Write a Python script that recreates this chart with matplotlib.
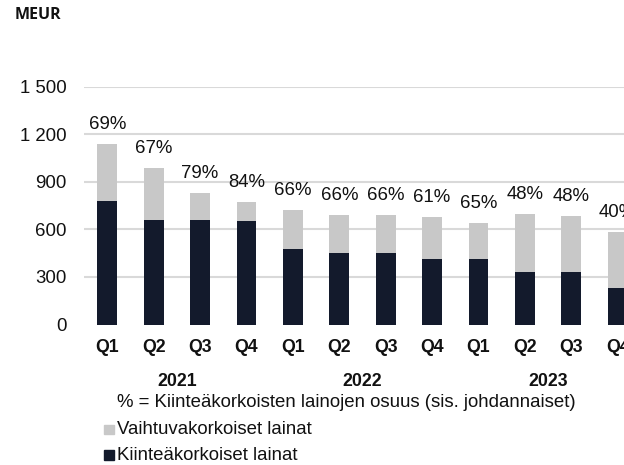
import matplotlib
matplotlib.use("Agg")
import matplotlib.pyplot as plt
import matplotlib.transforms as mtransforms
from matplotlib.patches import Rectangle
from matplotlib.ticker import FuncFormatter

plt.rcParams['font.family'] = ['Liberation Sans', 'DejaVu Sans']

# Quarterly loan portfolio, MEUR
quarters = ["Q1", "Q2", "Q3", "Q4", "Q1", "Q2", "Q3", "Q4", "Q1", "Q2", "Q3", "Q4"]
years = ["2021", "2022", "2023"]
fixed_rate = [779, 659, 659, 653, 474, 453, 453, 413, 413, 329, 329, 229]
floating_rate = [358, 328, 172, 120, 250, 238, 236, 265, 227, 366, 356, 355]
fixed_share = [69, 67, 79, 84, 66, 66, 66, 61, 65, 48, 48, 40]
y_ticks = [0, 300, 600, 900, 1200, 1500]

NAVY = "#131a2c"
GREY = "#c8c8c8"
GRID = "#d9d9d9"
TXT = "#111111"
FS = 13.4
FSB = 12.8

W, H = 624, 465
fig = plt.figure(figsize=(W / 100, H / 100), dpi=100)

left_px, right_px = 84.1, 640.9
bottom_px, top_px = 324.5, 86.7
ax = fig.add_axes([left_px / W, 1 - bottom_px / H,
                   (right_px - left_px) / W, (bottom_px - top_px) / H])

x = list(range(len(quarters)))
ax.bar(x, fixed_rate, width=0.43, color=NAVY, zorder=3)
ax.bar(x, floating_rate, width=0.43, bottom=fixed_rate, color=GREY, zorder=3)

for xi, f, v, p in zip(x, fixed_rate, floating_rate, fixed_share):
    ax.annotate(f"{p}%", xy=(xi, f + v), xytext=(0, 14), textcoords="offset points",
                ha="center", va="center", fontsize=FS, color=TXT,
                annotation_clip=False)

ax.set_xlim(-0.5, len(quarters) - 0.5)
ax.set_ylim(0, 1500)
ax.set_yticks(y_ticks)
ax.yaxis.set_major_formatter(FuncFormatter(lambda v, _: f"{int(v):,}".replace(",", " ")))
ax.tick_params(axis="y", length=0, pad=12.5, labelsize=FS, labelcolor=TXT)
ax.set_xticks(x)
ax.set_xticklabels(quarters, fontweight="bold", fontsize=FSB, color=TXT)
ax.tick_params(axis="x", length=0, pad=10.5)

ax.grid(axis="y", color=GRID, linewidth=1.5, zorder=0)
ax.set_axisbelow(True)
ax.get_ygridlines()[0].set_visible(False)
for s in ax.spines.values():
    s.set_visible(False)

# Year labels centred under each block of four quarters
trans = mtransforms.blended_transform_factory(ax.transData, fig.transFigure)
for i, yr in enumerate(years):
    ax.text(4 * i + 1.5, 1 - 381.7 / H, yr, transform=trans, ha="center", va="center",
            fontsize=FSB, fontweight="bold", color=TXT, clip_on=False)

fig.text(15 / W, 1 - 15 / H, "MEUR", fontsize=11.5, fontweight="bold",
         family=["Open Sans", "DejaVu Sans"], ha="left", va="center", color=TXT)

fig.text(117.3 / W, 1 - 402.7 / H,
         "% = Kiinteäkorkoisten lainojen osuus (sis. johdannaiset)",
         fontsize=FS, ha="left", va="center", color=TXT)

legend_rows = [("Vaihtuvakorkoiset lainat", GREY, 429.3),
               ("Kiinteäkorkoiset lainat", NAVY, 455.0)]
for label, col, yc in legend_rows:
    fig.patches.append(Rectangle((104.3 / W, 1 - (yc + 4.8) / H), 9.6 / W, 9.6 / H,
                                 transform=fig.transFigure, color=col, figure=fig))
    fig.text(117.3 / W, 1 - yc / H, label, fontsize=FS, ha="left", va="center",
             color=TXT)

fig.savefig("out.png", dpi=100)
